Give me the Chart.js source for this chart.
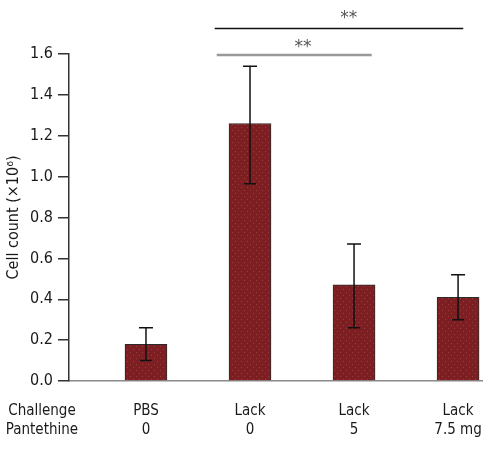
<!DOCTYPE html>
<html>
<head>
<meta charset="utf-8">
<script src="https://cdn.jsdelivr.net/npm/chart.js@4/dist/chart.umd.min.js"></script>
<style>
  body { margin: 0; background: #fff; }
  canvas { display: block; }
</style>
</head>
<body>
<canvas id="chart" width="490" height="453"></canvas>
<script>
// Valores
const challenge = ["Challenge", "PBS", "Lack", "Lack", "Lack"];
const pantethine = ["Pantethine", "0", "0", "5", "7.5 mg"];
const positions = [1, 2, 3, 4];
const cellCount = [0.18, 1.26, 0.47, 0.41];
const errHigh = [0.26, 1.54, 0.67, 0.52];
const errLow = [0.10, 0.965, 0.26, 0.30];
const yTicks = [0, 0.2, 0.4, 0.6, 0.8, 1.0, 1.2, 1.4, 1.6];

// Barras de significancia (en unidades de los ejes)
const sigFrom = [1.66, 1.68];
const sigTo = [4.05, 3.17];
const sigY = [1.725, 1.595];
const sigLabelX = [2.95, 2.51];
const sigLabelY = [1.79, 1.645];
const sigLabel = ["**", "**"];

const FONT = "'DejaVu Sans Condensed', 'Liberation Sans', sans-serif";

function dotPattern() {
  const c = document.createElement("canvas");
  c.width = 6; c.height = 6;
  const g = c.getContext("2d");
  g.fillStyle = "#7d1e22";
  g.fillRect(0, 0, 6, 6);
  g.fillStyle = "#94403b";
  g.fillRect(1, 1, 1, 1);
  g.fillRect(4, 4, 1, 1);
  return g.createPattern(c, "repeat");
}

// Plugin: barras de error
const errorBarsPlugin = {
  id: "errorBars",
  afterDatasetsDraw(c) {
    const { ctx, scales: { x, y } } = c;
    ctx.save();
    ctx.strokeStyle = "#111";
    ctx.lineWidth = 1.5;
    positions.forEach((p, i) => {
      const px = x.getPixelForValue(p);
      const top = y.getPixelForValue(errHigh[i]);
      const bot = y.getPixelForValue(errLow[i]);
      ctx.beginPath();
      ctx.moveTo(px, top);
      ctx.lineTo(px, bot);
      ctx.stroke();
      ctx.beginPath();
      ctx.moveTo(px - 7, top);
      ctx.lineTo(px + 7, top);
      ctx.moveTo(px - 6, bot);
      ctx.lineTo(px + 6, bot);
      ctx.stroke();
    });
    ctx.restore();
  },
};

// Plugin: lineas de significancia
const sigPlugin = {
  id: "sig",
  afterDraw(c) {
    const { ctx, scales: { x, y } } = c;
    ctx.save();
    sigFrom.forEach((f, i) => {
      const yy = y.getPixelForValue(sigY[i]);
      ctx.strokeStyle = i === 0 ? "#111" : "#999";
      ctx.lineWidth = i === 0 ? 1.5 : 2.5;
      ctx.beginPath();
      ctx.moveTo(x.getPixelForValue(f), yy);
      ctx.lineTo(x.getPixelForValue(sigTo[i]), yy);
      ctx.stroke();
      ctx.fillStyle = "#555";
      ctx.font = "17px 'DejaVu Sans', sans-serif";
      ctx.textAlign = "center";
      ctx.textBaseline = "middle";
      ctx.fillText(sigLabel[i], x.getPixelForValue(sigLabelX[i]), y.getPixelForValue(sigLabelY[i]) + 3);
    });
    ctx.restore();
  },
};

new Chart(document.getElementById("chart").getContext("2d"), {
  type: "bar",
  data: {
    datasets: [{
      data: positions.map((p, i) => ({ x: p, y: cellCount[i] })),
      backgroundColor: dotPattern(),
      borderColor: "#2a2a2a",
      borderWidth: 1,
      barThickness: 42,
    }],
  },
  options: {
    responsive: false,
    animation: false,
    layout: { padding: { top: 54, right: 8, left: 0, bottom: 0 } },
    plugins: { legend: { display: false }, tooltip: { enabled: false } },
    scales: {
      x: {
        type: "linear",
        bounds: "data",
        offset: false,
        min: 0.26,
        max: 4.23,
        afterBuildTicks: (s) => { s.ticks = [0, 1, 2, 3, 4].map((v) => ({ value: v })); },
        afterFit: (s) => { s.height = 72; s.paddingLeft = 0; s.paddingRight = 0; },
        grid: { display: false, offset: false },
        border: { display: true, color: "#8a8a8a", width: 1.5 },
        ticks: {
          autoSkip: false,
          maxRotation: 0,
          padding: 12,
          color: "#1a1a1a",
          font: { family: FONT, size: 15, lineHeight: 1.3 },
          callback: (v, i) => [challenge[i], pantethine[i]],
        },
      },
      y: {
        min: 0,
        max: 1.6,
        afterBuildTicks: (s) => { s.ticks = yTicks.map((v) => ({ value: v })); },
        afterFit: (s) => { s.width = 69; },
        grid: { drawOnChartArea: false, tickLength: 11, tickColor: "#333", lineWidth: 1.5 },
        border: { display: true, color: "#333", width: 1.5 },
        ticks: {
          padding: 5,
          color: "#1a1a1a",
          font: { family: FONT, size: 16 },
          callback: (v) => v.toFixed(1),
        },
        title: {
          display: true,
          text: "Cell count (×10⁶)",
          color: "#1a1a1a",
          font: { family: FONT, size: 16 },
          padding: { top: 4, bottom: 0 },
        },
      },
    },
  },
  plugins: [errorBarsPlugin, sigPlugin],
});
</script>
</body>
</html>
